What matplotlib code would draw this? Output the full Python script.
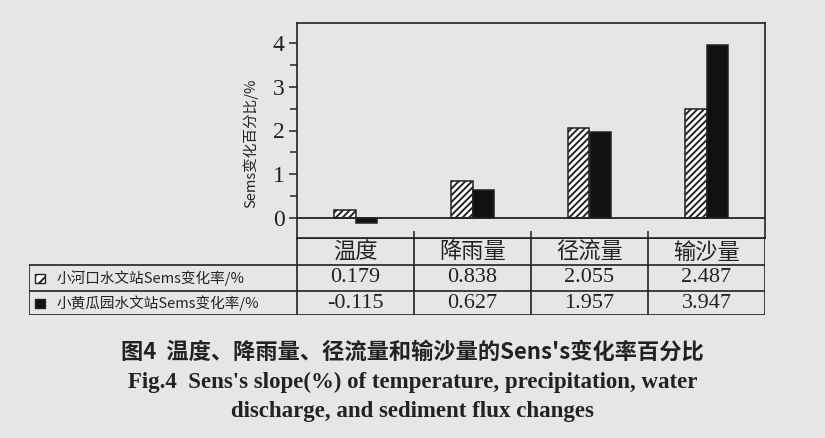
import numpy as np
import matplotlib
matplotlib.use("Agg")
import matplotlib.pyplot as plt
from matplotlib.patches import Rectangle

plt.rcParams['font.family'] = ['Noto Sans CJK SC', 'DejaVu Sans']
plt.rcParams['hatch.linewidth'] = 1.4

# data
categories = ['温度', '降雨量', '径流量', '输沙量']
xiaohekou = [0.179, 0.838, 2.055, 2.487]
xiaohuanggua = [-0.115, 0.627, 1.957, 3.947]
xiaohekou_txt = ['0.179', '0.838', '2.055', '2.487']
xiaohuanggua_txt = ['-0.115', '0.627', '1.957', '3.947']
row_labels = ['小河口水文站Sems变化率/%', '小黄瓜园水文站Sems变化率/%']
ylabel = 'Sems变化百分比/%'
title_cn = "图4  温度、降雨量、径流量和输沙量的Sens's变化率百分比"
title_en1 = "Fig.4  Sens's slope(%) of temperature, precipitation, water"
title_en2 = "discharge, and sediment flux changes"

W, H = 825, 438
bg = '#e6e6e4'
ink = '#222222'
fig = plt.figure(figsize=(W / 100, H / 100), dpi=100, facecolor=bg)

# main bar axes (pixel box 297..765 x 23..238)
ax = fig.add_axes([297 / W, 1 - 238 / H, (765 - 297) / W, (238 - 23) / H])
ax.set_facecolor(bg)
x = np.arange(len(categories))
bw = 0.18
ax.bar(x - bw / 2, xiaohekou, bw, facecolor='white', edgecolor=ink,
       hatch='/////', linewidth=1.1)
ax.bar(x + bw / 2, xiaohuanggua, bw, facecolor='#111111', edgecolor=ink,
       linewidth=1.1)
ax.axhline(0, color=ink, lw=1.3)
ax.set_xlim(-0.5, len(categories) - 0.5)
ax.set_ylim(-0.46, 4.46)
ax.set_yticks([0, 1, 2, 3, 4])
ax.set_yticks(np.arange(0.5, 4.5, 1.0), minor=True)
ax.set_xticks(x[:-1] + 0.5)
ax.set_xticklabels([])
ax.tick_params(axis='x', direction='in', length=5, width=1.1, color=ink)
ax.tick_params(axis='y', which='major', direction='out', length=6, width=1.1,
               color=ink, pad=3, labelsize=17)
ax.tick_params(axis='y', which='minor', direction='out', length=5, width=1.1,
               color=ink)
for lab in ax.get_yticklabels():
    lab.set_family('Liberation Serif')
    lab.set_color(ink)
for sp in ax.spines.values():
    sp.set_color(ink)
    sp.set_linewidth(1.2)
ax.set_ylabel(ylabel, fontsize=10.5, color=ink, family=['Noto Sans CJK SC'])
ax.yaxis.set_label_coords(-0.082, 0.44)

# data table under the axes (pixel box 29..765 x 238..315)
tx0 = -0.5 - (297 - 29) / ((765 - 297) / len(categories))
tax = fig.add_axes([29 / W, 1 - 315 / H, (765 - 29) / W, (315 - 238) / H])
tax.set_xlim(tx0, len(categories) - 0.5)
tax.set_ylim(77, 0)
tax.axis('off')
tax.patch.set_alpha(0)
rows_y = [0, 27, 53, 77]
lw = 1.2
# horizontal lines
tax.plot([-0.5, len(categories) - 0.5], [0, 0], color=ink, lw=lw)
for yy in rows_y[1:]:
    tax.plot([tx0, len(categories) - 0.5], [yy, yy], color=ink, lw=lw)
# vertical lines
for xx in np.arange(-0.5, len(categories), 1.0):
    tax.plot([xx, xx], [0, 77], color=ink, lw=lw)
tax.plot([tx0, tx0], [27, 77], color=ink, lw=lw)

for i, c in enumerate(categories):
    tax.text(i, 14, c, ha='center', va='center', fontsize=16, color=ink)
    tax.text(i, 40, xiaohekou_txt[i], ha='center', va='center', fontsize=16,
             color=ink, family='Liberation Serif')
    tax.text(i, 65.5, xiaohuanggua_txt[i], ha='center', va='center',
             fontsize=16, color=ink, family='Liberation Serif')

# legend keys in the row labels
px = (765 - 29) / (len(categories) - 0.5 - tx0)   # pixels per unit
kx = tx0 + (35 - 29) / px
kw = 10 / px
tax.add_patch(Rectangle((kx, 36), kw, 9, facecolor='white', edgecolor=ink,
                        hatch='///', lw=1.0))
tax.add_patch(Rectangle((kx, 61), kw, 9, facecolor='#111111', edgecolor=ink,
                        lw=1.0))
for yy, lab in zip([40, 65], row_labels):
    tax.text(tx0 + (57 - 29) / px, yy, lab, ha='left', va='center',
             fontsize=10.5, color=ink)

# captions
fig.text(0.5, 1 - 352 / H, title_cn, ha='center', va='center', fontsize=16,
         fontweight='bold', color=ink,
         family=['Noto Sans CJK SC', 'DejaVu Sans'])
fig.text(0.5, 1 - 382 / H, title_en1, ha='center', va='center', fontsize=16.5,
         fontweight='bold', color=ink, family='Liberation Serif')
fig.text(0.5, 1 - 412 / H, title_en2, ha='center', va='center', fontsize=16.5,
         fontweight='bold', color=ink, family='Liberation Serif')

fig.savefig('out.png', dpi=100, facecolor=bg)
